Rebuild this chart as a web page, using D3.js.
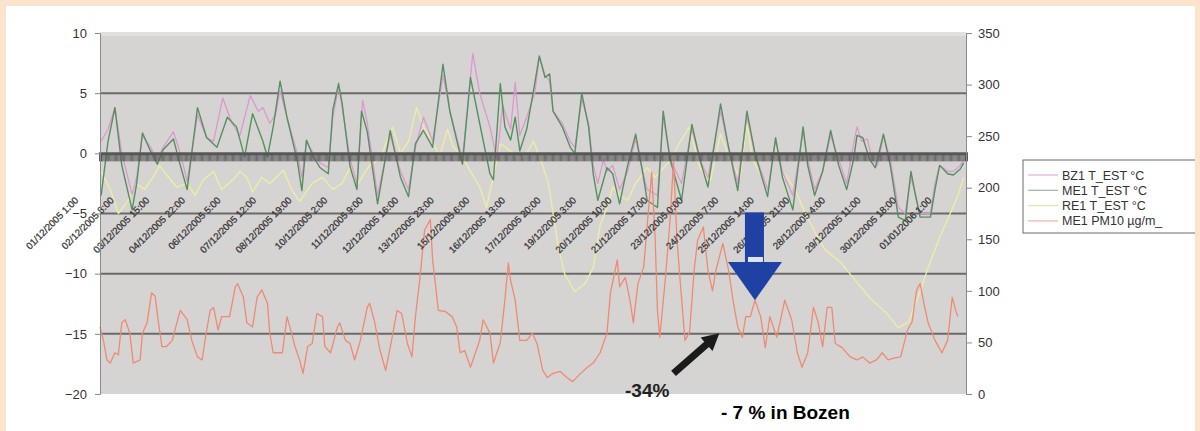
<!DOCTYPE html>
<html>
<head>
<meta charset="utf-8">
<script src="https://cdn.jsdelivr.net/npm/d3@7"></script>
<style>
  html, body { margin: 0; padding: 0; background: #fce3cc; }
  svg { display: block; }
  text { font-family: Arial, "Liberation Sans", sans-serif; }
</style>
</head>
<body>
<svg id="chart" width="1200" height="431"></svg>
<script>
// Hourly readings, December 2005 (hour 0 = 01/12/2005 1:00)
// Each entry: [hour, value]
const bz1Temp = [[1,1],[7,2],[13,3.8],[19,0],[28,-3.4],[32,-2],[37,1.5],[44,0.5],[50,-0.5],[55,0.5],[64,1.8],[70,0],[76,-2.3],[85,3.2],[93,1.3],[99,1],[107,4.6],[115,2.5],[122,1.5],[131,4.8],[138,3.5],[142,3.8],[148,2.5],[153,3.2],[157,5.2],[163,3],[172,0],[176,-2],[180,1],[186,0],[192,-0.8],[199,-1.2],[203,3],[208,5.5],[211,4],[218,-0.5],[224,-2.5],[229,4.4],[233,2.5],[242,-3.5],[253,1.5],[262,-1.5],[269,-3],[275,0.5],[282,3],[290,1],[299,6.5],[305,3.5],[316,-0.5],[325,8.3],[331,5],[340,2.2],[346,-0.5],[351,4],[358,2],[362,5.9],[366,1.5],[372,3],[379,5],[383,8],[388,6.5],[392,6],[395,3.5],[403,2.5],[410,1],[414,0.5],[420,4.5],[426,2.5],[430,-1],[434,-2.5],[439,-0.5],[442,-1.5],[447,-1],[453,-3],[460,-1.5],[467,1.2],[473,-1.5],[477,-3],[486,-3.5],[491,3],[497,-0.5],[507,-2.5],[516,2],[523,-0.5],[530,-2],[541,3.5],[548,0.5],[556,-2.5],[564,3],[571,0],[582,-3],[589,1],[595,-1.5],[604,-3.5],[613,1.8],[617,-0.5],[623,-3],[630,-1.5],[637,1.5],[644,-0.5],[651,-2.5],[657,0.8],[660,2.2],[664,1],[669,1.2],[673,-0.5],[678,-1],[683,1.5],[689,-0.5],[696,-4.5],[702,-5],[707,-2],[711,-3.5],[715,-5],[724,-5],[728,-2.5],[732,-1],[739,-1.5],[744,-1.5],[750,-1],[753,-0.5]];

const me1Temp = [[1,-3.5],[7,1],[13,3.8],[19,-1],[28,-4.7],[32,-2.5],[37,1.7],[44,0.2],[50,-0.9],[55,0.3],[64,1.2],[70,-1],[76,-3],[85,3.8],[93,1.3],[102,0.5],[111,3],[119,2.2],[126,-0.3],[133,3.3],[142,1],[146,-0.3],[151,2.2],[157,6],[163,3],[172,-0.6],[176,-3.1],[180,1.1],[186,-0.3],[192,-1.2],[199,-1.7],[203,3.6],[208,5.8],[211,4.2],[218,-1.1],[224,-3],[228,3.5],[233,1.8],[242,-4.2],[253,1.9],[262,-2],[269,-3.6],[275,0.8],[282,1.9],[290,0.5],[299,7.4],[305,3.5],[316,-0.9],[323,6.3],[331,2.5],[340,-1.7],[343,-2.2],[349,5.8],[353,2.2],[358,1.1],[362,3],[366,0.2],[372,2],[379,5.8],[383,8.1],[388,6.3],[392,6.6],[395,3.5],[403,2.2],[410,0.5],[414,0],[420,5],[426,2.2],[430,-1.7],[434,-3.9],[442,-1.2],[447,-1.7],[453,-4.2],[460,-1],[467,1.6],[473,-1.5],[477,-3.9],[486,-4.5],[491,3.5],[497,-0.5],[507,-3.9],[516,2.4],[523,-0.5],[530,-2.8],[541,4.1],[548,0.5],[556,-3.1],[564,3.5],[571,0],[582,-3.6],[589,1.3],[595,-2],[604,-4.7],[613,2.2],[617,-1],[623,-3.5],[630,-1.5],[637,1.9],[644,-1],[651,-3],[657,-0.5],[660,1.5],[665,1.3],[671,-0.5],[676,-1.2],[683,1.6],[689,-1],[696,-5.3],[702,-5.6],[707,-1.5],[711,-3.5],[715,-5.3],[724,-5.3],[728,-3],[732,-1],[739,-1.7],[744,-1.8],[750,-1.3],[753,-0.8]];

const re1Temp = [[1,-1.5],[9,-3],[16,-5],[24,-4],[31,-2.5],[39,-3],[46,-2],[52,-1],[58,-1.8],[67,-2.8],[76,-2.5],[83,-3.5],[90,-2.2],[99,-1.5],[106,-3],[116,-2.2],[122,-1.5],[128,-2],[133,-3.2],[141,-2],[148,-2.5],[160,-1.4],[167,-3],[174,-4],[185,-2.5],[194,-2],[203,-3],[211,-2.5],[218,-1.2],[225,-2.5],[235,-1],[244,-0.5],[255,2.2],[262,0],[269,1],[276,3.8],[283,2],[290,1],[296,-0.3],[303,2],[308,0.5],[314,0],[323,-1.5],[331,-2.8],[337,-4.5],[349,0.8],[354,0.5],[360,0],[366,-0.5],[372,0],[378,1],[384,-0.5],[391,-2.5],[399,-7.5],[405,-10],[414,-11.5],[423,-10.8],[430,-9.5],[436,-6],[442,-4.5],[447,-2.8],[453,-3.5],[460,-3.9],[467,-2.5],[477,-1.2],[484,-2],[497,-0.6],[506,1],[514,2.2],[523,-1.2],[532,-2.3],[541,1.6],[549,-0.5],[558,-2],[564,2.5],[569,-0.5],[582,-2.8],[589,0.8],[595,-1.5],[606,-3],[615,-5],[623,-6.5],[632,-8],[645,-9],[658,-10.5],[671,-12],[685,-13.2],[696,-14.5],[705,-14],[713,-12],[722,-9.5],[732,-7],[739,-5.5],[748,-3.5],[753,-2]];

const me1Pm10 = [[0,65],[3,52],[6,33],[9,30],[13,40],[16,38],[19,69],[22,72],[26,59],[29,30],[35,33],[37,59],[41,69],[45,98],[48,95],[51,69],[54,46],[58,46],[63,52],[67,69],[70,81],[76,72],[80,52],[85,36],[89,33],[92,55],[96,81],[99,84],[103,62],[106,75],[113,75],[118,104],[120,107],[125,94],[128,69],[133,65],[137,94],[141,101],[146,88],[148,59],[151,40],[159,40],[163,75],[167,59],[170,46],[174,33],[177,20],[181,46],[185,49],[189,78],[194,75],[196,46],[201,40],[207,65],[209,69],[214,52],[218,49],[222,33],[227,52],[233,84],[235,88],[239,72],[244,43],[249,23],[253,45],[259,81],[263,78],[268,49],[272,36],[275,75],[279,113],[283,159],[288,169],[290,130],[295,81],[301,80],[307,75],[311,65],[314,40],[318,42],[323,26],[331,52],[334,72],[340,59],[343,30],[349,50],[353,91],[356,127],[358,110],[362,91],[366,52],[372,52],[377,59],[381,49],[386,23],[390,16],[395,20],[401,22],[407,16],[412,12],[419,20],[425,26],[430,30],[436,40],[442,59],[445,98],[451,130],[453,104],[458,113],[462,91],[465,69],[469,107],[474,123],[478,176],[481,215],[484,150],[486,81],[488,55],[493,113],[497,169],[500,225],[503,150],[506,107],[510,52],[514,60],[518,120],[521,149],[526,162],[530,120],[534,100],[537,120],[543,146],[548,120],[552,90],[556,65],[560,55],[563,75],[567,75],[571,91],[576,75],[580,45],[584,75],[590,55],[597,91],[603,72],[608,40],[612,26],[617,40],[622,84],[626,70],[630,46],[634,84],[638,84],[641,49],[647,45],[654,36],[660,33],[665,36],[671,30],[677,33],[682,40],[687,33],[693,35],[698,36],[704,62],[708,70],[712,101],[715,107],[719,84],[722,69],[728,52],[734,40],[739,52],[743,94],[746,81],[748,75]];

// Category labels, one every 31 hours
const dateLabels = ["01/12/2005 1:00","02/12/2005 8:00","03/12/2005 15:00","04/12/2005 22:00","06/12/2005 5:00","07/12/2005 12:00","08/12/2005 19:00","10/12/2005 2:00","11/12/2005 9:00","12/12/2005 16:00","13/12/2005 23:00","15/12/2005 6:00","16/12/2005 13:00","17/12/2005 20:00","19/12/2005 3:00","20/12/2005 10:00","21/12/2005 17:00","23/12/2005 0:00","24/12/2005 7:00","25/12/2005 14:00","26/12/2005 21:00","28/12/2005 4:00","29/12/2005 11:00","30/12/2005 18:00","01/01/2006 1:00"];
const labelStepHours = 31;

const tempTicks = [-20, -15, -10, -5, 0, 5, 10];
const pmTicks = [0, 50, 100, 150, 200, 250, 300, 350];
const gridValues = [5, -5, -10, -15];

const seriesNames = ["BZ1 T_EST °C", "ME1 T_EST °C", "RE1 T_EST °C", "ME1 PM10 µg/m_"];
const seriesColors = ["#dc98cf", "#55905f", "#eeef9e", "#ef8a72"];
const legendColors = ["#e2b4d8", "#9cb4a2", "#dfe6a6", "#f1b1a4"];

// Annotations (hour, PM10 value)
const dropArrow = { hour: 571, top: 176, headBase: 128, tip: 91 };
const riseArrow = { fromHour: 500, fromValue: 20, toHour: 540, toValue: 59 };

const svg = d3.select("#chart");
const W = 1200, H = 431;
const plot = { left: 100, right: 966, top: 33, bottom: 394 };

// page frame
svg.append("rect").attr("x", 0).attr("y", 0).attr("width", W).attr("height", H).attr("fill", "#fce3cc");
svg.append("rect").attr("x", 6).attr("y", 6).attr("width", 1189).attr("height", H - 6).attr("fill", "#ffffff");

const x = d3.scaleLinear().domain([0, 755]).range([plot.left, plot.right]);
const yT = d3.scaleLinear().domain([-20, 10]).range([plot.bottom, plot.top]);
const yP = d3.scaleLinear().domain([0, 350]).range([plot.bottom, plot.top]);

// plot area
svg.append("rect")
  .attr("x", plot.left).attr("y", plot.top)
  .attr("width", plot.right - plot.left).attr("height", plot.bottom - plot.top)
  .attr("fill", "#d6d4d3");
svg.append("rect")
  .attr("x", plot.left).attr("y", plot.top - 1)
  .attr("width", plot.right - plot.left).attr("height", 4)
  .attr("fill", "#e2e0df");

// horizontal gridlines
svg.append("g").selectAll("line").data(gridValues).join("line")
  .attr("x1", plot.left).attr("x2", plot.right)
  .attr("y1", d => yT(d)).attr("y2", d => yT(d))
  .attr("stroke", "#6a6a6a").attr("stroke-width", 2);

// series
const lineT = d3.line().x(d => x(d[0])).y(d => yT(d[1]));
const lineP = d3.line().x(d => x(d[0])).y(d => yP(d[1]));

const temps = [re1Temp, bz1Temp, me1Temp];
const tempColors = [seriesColors[2], seriesColors[0], seriesColors[1]];
const tempWidths = [1.3, 1.3, 1.4];
svg.append("g").selectAll("path").data(temps).join("path")
  .attr("d", lineT)
  .attr("fill", "none")
  .attr("stroke", (d, i) => tempColors[i])
  .attr("stroke-width", (d, i) => tempWidths[i])
  .attr("stroke-linejoin", "round");

svg.append("path").datum(me1Pm10)
  .attr("d", lineP)
  .attr("fill", "none")
  .attr("stroke", seriesColors[3])
  .attr("stroke-width", 1.3)
  .attr("stroke-linejoin", "round");

// category axis crossing at 0 with hourly tick marks
const xAxis = d3.axisBottom(x)
  .tickValues(d3.range(0, 756))
  .tickSize(8)
  .tickFormat("");
const gx = svg.append("g").attr("transform", `translate(0,${yT(0)})`).call(xAxis);
gx.select(".domain").attr("stroke", "#5a5a5a").attr("stroke-width", 3);
gx.selectAll(".tick line").attr("stroke", "#555").attr("stroke-width", 0.85);

// rotated date labels
svg.append("g").selectAll("text").data(dateLabels).join("text")
  .attr("transform", (d, i) => `translate(${x(i * labelStepHours) - 21},201) rotate(-45)`)
  .attr("text-anchor", "end")
  .attr("font-size", 9.6)
  .attr("fill", "#333")
  .attr("stroke", "#333")
  .attr("stroke-width", 0.25)
  .text(d => d);

// left axis
const gl = svg.append("g").attr("transform", `translate(${plot.left},0)`)
  .call(d3.axisLeft(yT).tickValues(tempTicks).tickSize(5).tickPadding(8).tickFormat(d3.format("d")));
gl.select(".domain").attr("stroke", "#8a8a8a");
gl.selectAll(".tick line").attr("stroke", "#8a8a8a");
gl.selectAll(".tick text").attr("font-size", 13).attr("fill", "#333").attr("font-family", "Arial, 'Liberation Sans', sans-serif");

// right axis
const gr = svg.append("g").attr("transform", `translate(${plot.right},0)`)
  .call(d3.axisRight(yP).tickValues(pmTicks).tickSize(6).tickPadding(6));
gr.select(".domain").attr("stroke", "#8a8a8a");
gr.selectAll(".tick line").attr("stroke", "#8a8a8a");
gr.selectAll(".tick text").attr("font-size", 13).attr("fill", "#333").attr("font-family", "Arial, 'Liberation Sans', sans-serif");

// legend
const lg = svg.append("g").attr("transform", "translate(1023,160)");
lg.append("rect").attr("x", 0).attr("y", 0).attr("width", 180).attr("height", 73)
  .attr("fill", "#ffffff").attr("stroke", "#6a6a6a").attr("stroke-width", 1);
const rows = lg.selectAll("g").data(seriesNames).join("g")
  .attr("transform", (d, i) => `translate(0,${15 + i * 15.3})`);
rows.append("line").attr("x1", 5).attr("x2", 35).attr("y1", 0).attr("y2", 0)
  .attr("stroke", (d, i) => legendColors[i]).attr("stroke-width", 1.2);
rows.append("text").attr("x", 39).attr("y", 4.5)
  .attr("font-size", 12.5).attr("fill", "#333").text(d => d);

// frame strip on the right, over the legend edge
svg.append("rect").attr("x", 1195).attr("y", 0).attr("width", 5).attr("height", H).attr("fill", "#fce3cc");

// blue drop arrow
const ax = x(dropArrow.hour);
const blue = "#1f41a3";
svg.append("rect").attr("x", ax - 10).attr("y", yP(dropArrow.top))
  .attr("width", 19).attr("height", yP(dropArrow.headBase) - yP(dropArrow.top) + 4)
  .attr("fill", blue);
svg.append("rect").attr("x", ax - 7).attr("y", yP(dropArrow.headBase) - 5)
  .attr("width", 15).attr("height", 5).attr("fill", "#dfe3ef");
svg.append("path")
  .attr("d", `M${ax - 27},${yP(dropArrow.headBase)} L${ax + 27},${yP(dropArrow.headBase)} L${ax},${yP(dropArrow.tip)} Z`)
  .attr("fill", blue);

// black rising arrow
const p0 = [x(riseArrow.fromHour), yP(riseArrow.fromValue)];
const p1 = [x(riseArrow.toHour), yP(riseArrow.toValue)];
const ang = Math.atan2(p1[1] - p0[1], p1[0] - p0[0]);
const len = Math.hypot(p1[0] - p0[0], p1[1] - p0[1]);
const headLen = 17, headW = 9, shaftW = 3.6;
svg.append("path")
  .attr("transform", `translate(${p0[0]},${p0[1]}) rotate(${ang * 180 / Math.PI})`)
  .attr("d", `M0,${-shaftW} L${len - headLen},${-shaftW} L${len - headLen},${-headW} L${len},0 L${len - headLen},${headW} L${len - headLen},${shaftW} L0,${shaftW} Z`)
  .attr("fill", "#1b1b1b");

// annotation texts
svg.append("text").attr("x", 625).attr("y", 397)
  .attr("font-size", 19).attr("font-weight", "bold").attr("fill", "#222")
  .text("-34%");
svg.append("text").attr("x", 721).attr("y", 419)
  .attr("font-size", 19).attr("font-weight", "bold").attr("fill", "#000")
  .text("- 7 % in Bozen");
</script>
</body>
</html>
